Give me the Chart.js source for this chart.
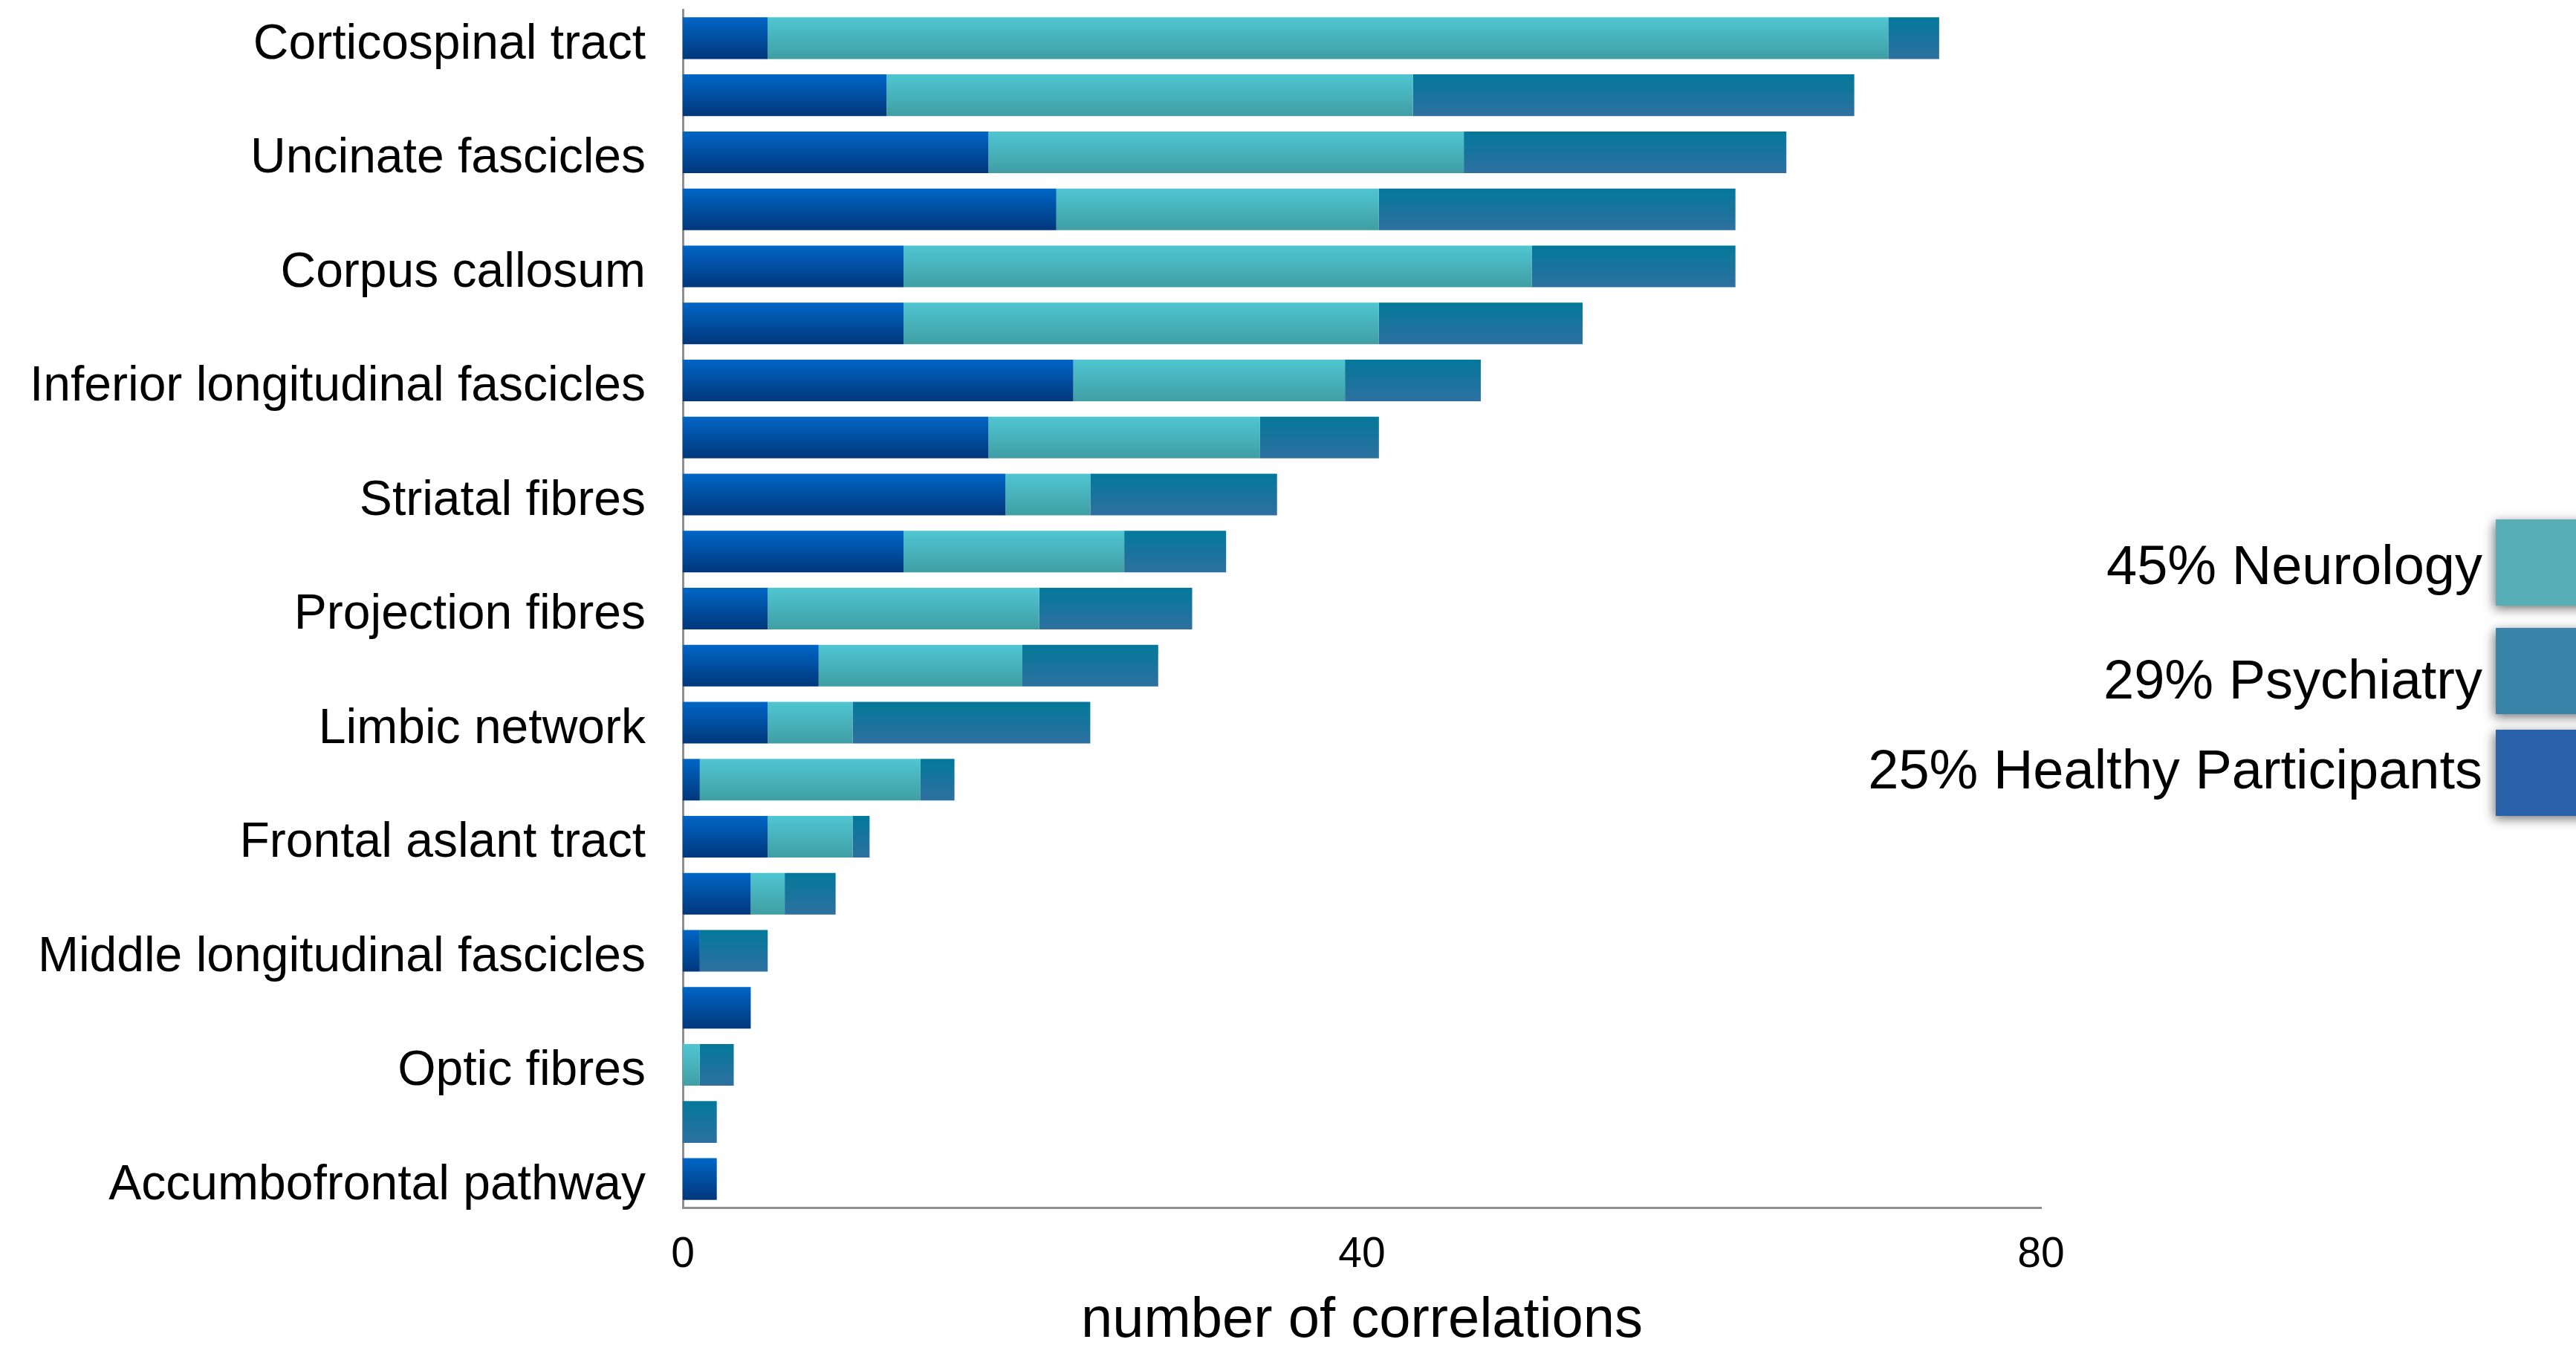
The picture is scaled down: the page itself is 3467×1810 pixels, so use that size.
<!DOCTYPE html>
<html>
<head>
<meta charset="utf-8">
<title>number of correlations</title>
<script src="https://cdn.jsdelivr.net/npm/chart.js@4.4.1/dist/chart.umd.min.js"></script>
<style>
  html, body { margin: 0; padding: 0; background: #ffffff; }
  canvas { display: block; }
</style>
</head>
<body>
<canvas id="myChart" width="3467" height="1810"></canvas>
<script>
// tracts, top to bottom (only every other bar is labelled in the original)
const tracts = ['Corticospinal tract', '', 'Uncinate fascicles', '', 'Corpus callosum', '',
  'Inferior longitudinal fascicles', '', 'Striatal fibres', '', 'Projection fibres', '',
  'Limbic network', '', 'Frontal aslant tract', '', 'Middle longitudinal fascicles', '',
  'Optic fibres', '', 'Accumbofrontal pathway'];

const healthy    = [5, 12, 18, 22, 13, 13, 23, 18, 19, 13, 5, 8, 5, 1, 5, 4, 1, 4, 0, 0, 2];
const neurology  = [66, 31, 28, 19, 37, 28, 16, 16, 5, 13, 16, 12, 5, 13, 5, 2, 0, 0, 1, 0, 0];
const psychiatry = [3, 26, 19, 21, 12, 12, 8, 7, 11, 6, 9, 8, 14, 2, 1, 3, 4, 0, 2, 2, 0];

const xTicks = [0, 40, 80];
const xTitle = 'number of correlations';

const legendOrder = ['45% Neurology', '29% Psychiatry', '25% Healthy Participants'];

Chart.defaults.font.family = '"Liberation Sans", Arial, Helvetica, sans-serif';
Chart.defaults.color = '#000000';

const BAR_PCT = 0.73;

// vertical gradient for each bar, like the keynote look
function barGradient(top, bottom, flat) {
  return function (ctx) {
    const chart = ctx.chart;
    const area = chart.chartArea;
    if (!area || ctx.dataIndex === undefined) return flat;
    const c = chart.scales.y.getPixelForValue(ctx.dataIndex);
    const half = (area.bottom - area.top) / tracts.length * BAR_PCT / 2;
    const g = chart.ctx.createLinearGradient(0, c - half, 0, c + half);
    g.addColorStop(0, top);
    g.addColorStop(1, bottom);
    return g;
  };
}

const swatches = {
  '45% Neurology': '#58aeb6',
  '29% Psychiatry': '#3a83a9',
  '25% Healthy Participants': '#2a62a9'
};

// legend sits on the right, text before box, boxes cut by the edge
const sideLegend = {
  id: 'sideLegend',
  afterDraw(chart) {
    const ctx = chart.ctx;
    const boxTops = [699, 845, 982];
    const baselines = [786, 940, 1061];
    ctx.save();
    legendOrder.forEach((name, i) => {
      ctx.save();
      ctx.shadowColor = 'rgba(0,0,0,0.55)';
      ctx.shadowBlur = 14;
      ctx.shadowOffsetX = -2;
      ctx.shadowOffsetY = 4;
      ctx.fillStyle = swatches[name];
      ctx.fillRect(3359, boxTops[i], 140, 116);
      ctx.restore();
      ctx.fillStyle = '#000000';
      ctx.font = '74px "Liberation Sans", Arial, sans-serif';
      ctx.textAlign = 'right';
      ctx.textBaseline = 'alphabetic';
      ctx.fillText(name, 3341, baselines[i]);
    });
    ctx.restore();
  }
};

const grafico = document.getElementById('myChart');
new Chart(grafico, {
  type: 'bar',
  data: {
    labels: tracts,
    datasets: [{
      label: '25% Healthy Participants',
      data: healthy,
      backgroundColor: barGradient('#0066c6', '#00377b', '#0050a0'),
      barPercentage: BAR_PCT,
      categoryPercentage: 1
    },
    {
      label: '45% Neurology',
      data: neurology,
      backgroundColor: barGradient('#4fc6d2', '#409ea4', '#48b4bc'),
      barPercentage: BAR_PCT,
      categoryPercentage: 1
    },
    {
      label: '29% Psychiatry',
      data: psychiatry,
      backgroundColor: barGradient('#03789a', '#2e70a0', '#18749d'),
      barPercentage: BAR_PCT,
      categoryPercentage: 1
    }]
  },
  options: {
    indexAxis: 'y',
    responsive: false,
    animation: false,
    devicePixelRatio: 1,
    layout: {
      padding: { top: 13, right: 720, bottom: 0, left: 0 }
    },
    plugins: {
      legend: { display: false },
      tooltip: { enabled: false }
    },
    scales: {
      x: {
        stacked: true,
        min: 0,
        max: 80,
        afterBuildTicks: (scale) => { scale.ticks = xTicks.map(v => ({ value: v })); },
        afterFit: (scale) => { scale.height = 185; },
        grid: { display: false, drawTicks: false },
        border: { display: true, color: '#8f8f8f', width: 3 },
        ticks: {
          font: { size: 57 },
          color: '#000000',
          padding: 30,
          maxRotation: 0
        },
        title: {
          display: true,
          text: xTitle,
          font: { size: 76, lineHeight: 0.84 },
          color: '#000000',
          padding: { top: 0, bottom: 0 }
        }
      },
      y: {
        stacked: true,
        afterFit: (scale) => {
          scale.width = 919;
          // labels sit in the middle of each row, no extra room needed
          scale.paddingTop = 0;
          scale.paddingBottom = 0;
        },
        grid: { display: false, drawTicks: false },
        border: { display: true, color: '#8f8f8f', width: 3 },
        ticks: {
          autoSkip: false,
          font: { size: 66 },
          color: '#000000',
          padding: 50,
          labelOffset: 9
        }
      }
    }
  },
  plugins: [sideLegend]
});
</script>
</body>
</html>
